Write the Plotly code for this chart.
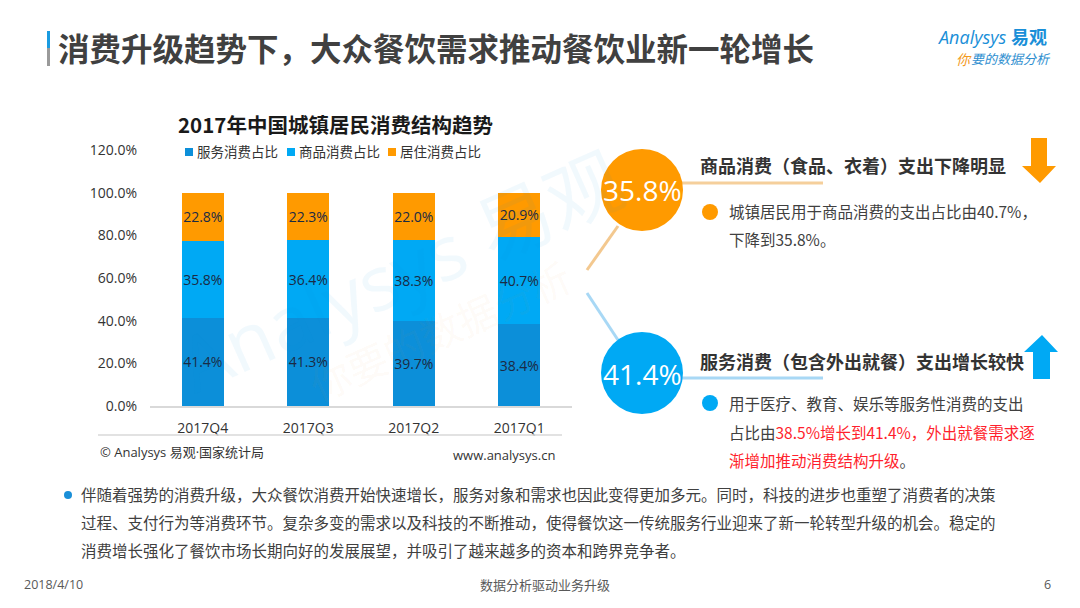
import plotly.graph_objects as go

W, H = 1080, 608
# the page body adds an 8px margin; pixel helpers below compensate for it
OX, OY = 8, 8

# ---- data ----
quarters = ["2017Q4", "2017Q3", "2017Q2", "2017Q1"]
service_share = [41.4, 41.3, 39.7, 38.4]
goods_share = [35.8, 36.4, 38.3, 40.7]
housing_share = [22.8, 22.3, 22.0, 20.9]
series_names = ["服务消费占比", "商品消费占比", "居住消费占比"]
y_ticks = [0, 20, 40, 60, 80, 100, 120]

C_SERVICE = "#0c8fd9"
C_GOODS = "#00a9f4"
C_HOUSING = "#ff9a00"
FONT = "Open Sans, Noto Sans CJK SC, sans-serif"
CJK = "Noto Sans CJK SC, sans-serif"


def px(x):
    return (x - OX) / W


def py(y):
    return 1 - (y - OY) / H


fig = go.Figure()
for name, vals, col in zip(series_names, [service_share, goods_share, housing_share],
                           [C_SERVICE, C_GOODS, C_HOUSING]):
    fig.add_trace(go.Bar(
        x=quarters, y=vals, name=name, marker=dict(color=col, line=dict(width=0)),
        text=[f"{v:.1f}%" for v in vals], textposition="inside",
        insidetextanchor="middle", textangle=0,
        textfont=dict(family=FONT, size=14, color="#1b2a44"),
        hoverinfo="skip",
    ))

fig.update_layout(
    width=W, height=H, autosize=False, barmode="stack", bargap=0.6,
    margin=dict(l=0, r=0, t=0, b=0, autoexpand=False),
    plot_bgcolor="white", paper_bgcolor="white",
    font=dict(family=FONT, color="#333333"),
    showlegend=False,
    uniformtext=dict(minsize=13, mode="show"),
)
fig.update_xaxes(domain=[px(150), px(572)], showline=True, linecolor="#d9d9d9",
                 linewidth=1.5, ticks="", tickfont=dict(family=FONT, size=14, color="#333"),
                 showgrid=False, automargin=False, ticklabelstandoff=8)
fig.update_yaxes(domain=[py(406), py(150)], range=[0, 120], tickvals=y_ticks,
                 ticktext=[f"{v:.1f}%" for v in y_ticks], showgrid=False, zeroline=False,
                 tickfont=dict(family=FONT, size=14, color="#333"), ticklabelstandoff=12,
                 automargin=False)

shapes = []
ann = []


def text(x, y, s, size=14, color="#404040", bold=False, anchor="left", family=CJK, **kw):
    if bold:
        s = f"<b>{s}</b>"
    ann.append(dict(x=px(x), y=py(y), xref="paper", yref="paper", text=s, showarrow=False,
                    xanchor=anchor, yanchor="middle",
                    font=dict(family=family, size=size, color=color), **kw))


def line(x0, y0, x1, y1, color, width=1):
    shapes.append(dict(type="line", xref="paper", yref="paper", x0=px(x0), y0=py(y0),
                       x1=px(x1), y1=py(y1), line=dict(color=color, width=width)))


def rect(x0, y0, x1, y1, color):
    shapes.append(dict(type="rect", xref="paper", yref="paper", x0=px(x0), x1=px(x1),
                       y0=py(y1), y1=py(y0), fillcolor=color, line=dict(width=0)))


def circle(cx, cy, r, color):
    shapes.append(dict(type="circle", xref="paper", yref="paper", x0=px(cx - r), x1=px(cx + r),
                       y0=py(cy + r), y1=py(cy - r), fillcolor=color, line=dict(width=0)))


def poly(pts, color):
    path = "M " + " L ".join(f"{px(x)},{py(y)}" for x, y in pts) + " Z"
    shapes.append(dict(type="path", xref="paper", yref="paper", path=path,
                       fillcolor=color, line=dict(width=0)))


# faint diagonal watermark behind the chart
text(400, 270, "Analysys 易观", size=76, color="rgba(0,150,220,0.055)",
     anchor="center", family=FONT, textangle=-24)
text(440, 330, "你要的数据分析", size=40, color="rgba(240,150,40,0.05)",
     anchor="center", textangle=-24)

# page title
rect(47, 31, 50, 48, "#1a9be0")
rect(47, 48, 50, 66, "#9a9a9a")
text(56, 47, "消费升级趋势下，大众餐饮需求推动餐饮业新一轮增长", size=31.5, color="#404040", bold=True)

# logo
text(1049, 37, "<i>Analysys</i> <b>易观</b>", size=18, color="#1a8fd8", anchor="right", family=FONT)
text(1053, 59, "<i>要的数据分析</i>", size=13, color="#2f8fd0", anchor="right")
text(974, 59, "<i>你</i>", size=14, color="#f39a1e", anchor="right")

# chart title, legend & source
text(335, 124, "2017年中国城镇居民消费结构趋势", size=20.5, color="#1a1a1a", bold=True, anchor="center")
for x0, name, col in zip([185, 287, 388], series_names, [C_SERVICE, C_GOODS, C_HOUSING]):
    rect(x0, 148, x0 + 8, 156, col)
    text(x0 + 10, 151, name, size=13.5, color="#333")
line(98, 435, 562, 435, "#d9d9d9", 1.5)
text(98, 452, "© Analysys 易观·国家统计局", size=13, color="#333", family=FONT)
text(557, 455, "www.analysys.cn", size=13, color="#333", anchor="right", family=FONT)

# right panel: connectors
line(587, 270, 618, 226, "#f3c88f", 3)
line(587, 293, 618, 340, "#a8d8f5", 3)
line(682, 183, 823, 183, "#f5cf9b", 3)
line(682, 378, 823, 378, "#a8d8f5", 3)
circle(642, 190, 41, C_HOUSING)
circle(642, 373, 41, C_GOODS)
text(642, 190, "35.8%", size=28, color="white", anchor="center", family=FONT)
text(642, 374, "41.4%", size=28, color="white", anchor="center", family=FONT)

text(698, 165, "商品消费（食品、衣着）支出下降明显", size=18, color="#333", bold=True)
text(698, 361, "服务消费（包含外出就餐）支出增长较快", size=18, color="#333", bold=True)

# arrows
poly([(1031, 138), (1047, 138), (1047, 166), (1056, 166), (1040, 183),
      (1022, 166), (1031, 166)], C_HOUSING)
poly([(1042, 335), (1058, 352), (1050, 352), (1050, 379), (1033, 379),
      (1033, 352), (1024, 352)], C_GOODS)

circle(710, 212, 8, C_HOUSING)
circle(710, 403, 8, C_GOODS)
text(727, 211, "城镇居民用于商品消费的支出占比由40.7%，", size=15.5)
text(727, 239, "下降到35.8%。", size=15.5)
text(727, 403, "用于医疗、教育、娱乐等服务性消费的支出", size=15.5)
text(727, 432, "占比由<span style='color:#ff1f2d'>38.5%增长到41.4%，外出就餐需求逐</span>", size=15.5)
text(727, 460, "<span style='color:#ff1f2d'>渐增加推动消费结构升级</span>。", size=15.5)

# bottom paragraph
circle(68, 495, 4, "#1a8fd8")
para = [
    "伴随着强势的消费升级，大众餐饮消费开始快速增长，服务对象和需求也因此变得更加多元。同时，科技的进步也重塑了消费者的决策",
    "过程、支付行为等消费环节。复杂多变的需求以及科技的不断推动，使得餐饮这一传统服务行业迎来了新一轮转型升级的机会。稳定的",
    "消费增长强化了餐饮市场长期向好的发展展望，并吸引了越来越多的资本和跨界竞争者。",
]
for i, s in enumerate(para):
    text(79, 494 + 28 * i, s, size=15.5)

# footer
text(22, 584, "2018/4/10", size=12.5, color="#595959", family=FONT)
text(545, 584, "数据分析驱动业务升级", size=13, color="#595959", anchor="center")
text(1053, 584, "6", size=12.5, color="#595959", anchor="right", family=FONT)

fig.update_layout(shapes=shapes, annotations=ann)
fig.write_html("out.html")
